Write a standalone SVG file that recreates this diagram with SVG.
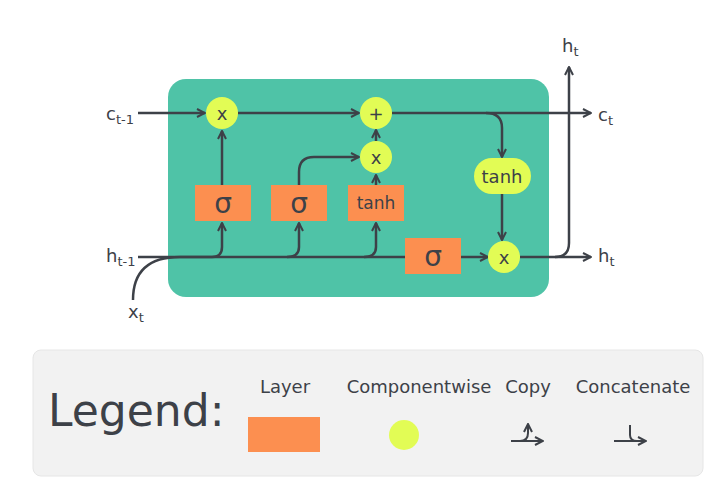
<svg xmlns="http://www.w3.org/2000/svg" width="720" height="493" viewBox="0 0 720 493">
<defs>
<marker id="ar" viewBox="0 0 10 10" refX="9" refY="5" markerWidth="10" markerHeight="10" markerUnits="userSpaceOnUse" orient="auto"><path d="M1,1 L9,5 L1,9" fill="none" stroke="#3d4148" stroke-width="2"/></marker>
<style>
.l{fill:none;stroke:#3d4148;stroke-width:2.5}
.a{marker-end:url(#ar)}
.o{fill:#fc8f50}
.y{fill:#e2fc55}
text{font-family:"DejaVu Sans",sans-serif;fill:#3d4148}
.t{font-size:18px}
.s{font-size:13px}
.m{text-anchor:middle}
</style>
</defs>
<rect width="720" height="493" fill="#fff"/>
<rect id="cell" x="168" y="79" width="381" height="218" rx="18" fill="#4fc3a7"/>
<g id="connectors">
<path class="l a" d="M138,113 H205"/>
<path class="l a" d="M238,113 H359"/>
<path class="l a" d="M392,113 H591"/>
<path class="l a" d="M222,185 V131"/>
<path class="l a" d="M299,185 V172 Q299,157 314,157 H359"/>
<path class="l a" d="M376,185 V175"/>
<path class="l a" d="M376,141 V130"/>
<path class="l a" d="M486,113 Q502,113 502,128 V157"/>
<path class="l a" d="M502,194 V240"/>
<path class="l a" d="M138,257 H488"/>
<path class="l a" d="M133,300 Q133,257 180,257 H212 Q222,257 222,247 V223"/>
<path class="l a" d="M287,257 Q299,257 299,247 V223"/>
<path class="l a" d="M364,257 Q376,257 376,247 V223"/>
<path class="l a" d="M520,257 H591"/>
<path class="l a" d="M555,257 Q569,257 569,243 V67"/>
</g>
<g id="n1"><circle cx="222" cy="113" r="16" class="y"/><text x="222" y="120" class="t m">x</text></g>
<g id="n2"><circle cx="376" cy="113" r="16" class="y"/><text x="376" y="120" class="t m">+</text></g>
<g id="n3"><circle cx="376" cy="157" r="16" class="y"/><text x="376" y="164" class="t m">x</text></g>
<g id="n4"><circle cx="504" cy="257" r="16" class="y"/><text x="504" y="264" class="t m">x</text></g>
<g id="n5"><rect x="474" y="158" width="57" height="36" rx="18" class="y"/><text x="502" y="183" class="t m">tanh</text></g>
<g id="s1"><rect x="195" y="185" width="56" height="36" class="o"/><text x="223" y="213" font-size="28" class="m">σ</text></g>
<g id="s2"><rect x="271" y="185" width="56" height="36" class="o"/><text x="299" y="213" font-size="28" class="m">σ</text></g>
<g id="s3"><rect x="348" y="185" width="56" height="36" class="o"/><text x="376" y="209" font-size="17" class="m">tanh</text></g>
<g id="s4"><rect x="405" y="238" width="56" height="36" class="o"/><text x="433" y="266" font-size="28" class="m">σ</text></g>
<g id="labels">
<text x="106" y="120" class="t">c<tspan class="s" dy="4">t-1</tspan></text>
<text x="106" y="262" class="t">h<tspan class="s" dy="4">t-1</tspan></text>
<text x="128" y="318" class="t">x<tspan class="s" dy="4">t</tspan></text>
<text x="562" y="52" class="t">h<tspan class="s" dy="4">t</tspan></text>
<text x="598" y="121" class="t">c<tspan class="s" dy="4">t</tspan></text>
<text x="598" y="262" class="t">h<tspan class="s" dy="4">t</tspan></text>
</g>
<g id="legend">
<rect x="33" y="350" width="670" height="126" rx="8" fill="#f2f2f2" stroke="#e6e6e6"/>
<text x="48" y="426" font-size="44">Legend:</text>
<text x="285" y="393" class="t m">Layer</text>
<rect x="248" y="417" width="72" height="35" class="o"/>
<text x="419" y="393" class="t m">Componentwise</text>
<circle cx="404" cy="435" r="15" class="y"/>
<text x="528" y="393" class="t m">Copy</text>
<path class="l a" style="stroke-width:2" d="M511,441 H543"/>
<path class="l a" style="stroke-width:2" d="M520,441 Q528,441 528,433 V424"/>
<text x="633" y="393" class="t m">Concatenate</text>
<path class="l a" style="stroke-width:2" d="M614,441 H646"/>
<path class="l" style="stroke-width:2" d="M630,425 V435 Q630,441 637,441"/>
</g>
</svg>
